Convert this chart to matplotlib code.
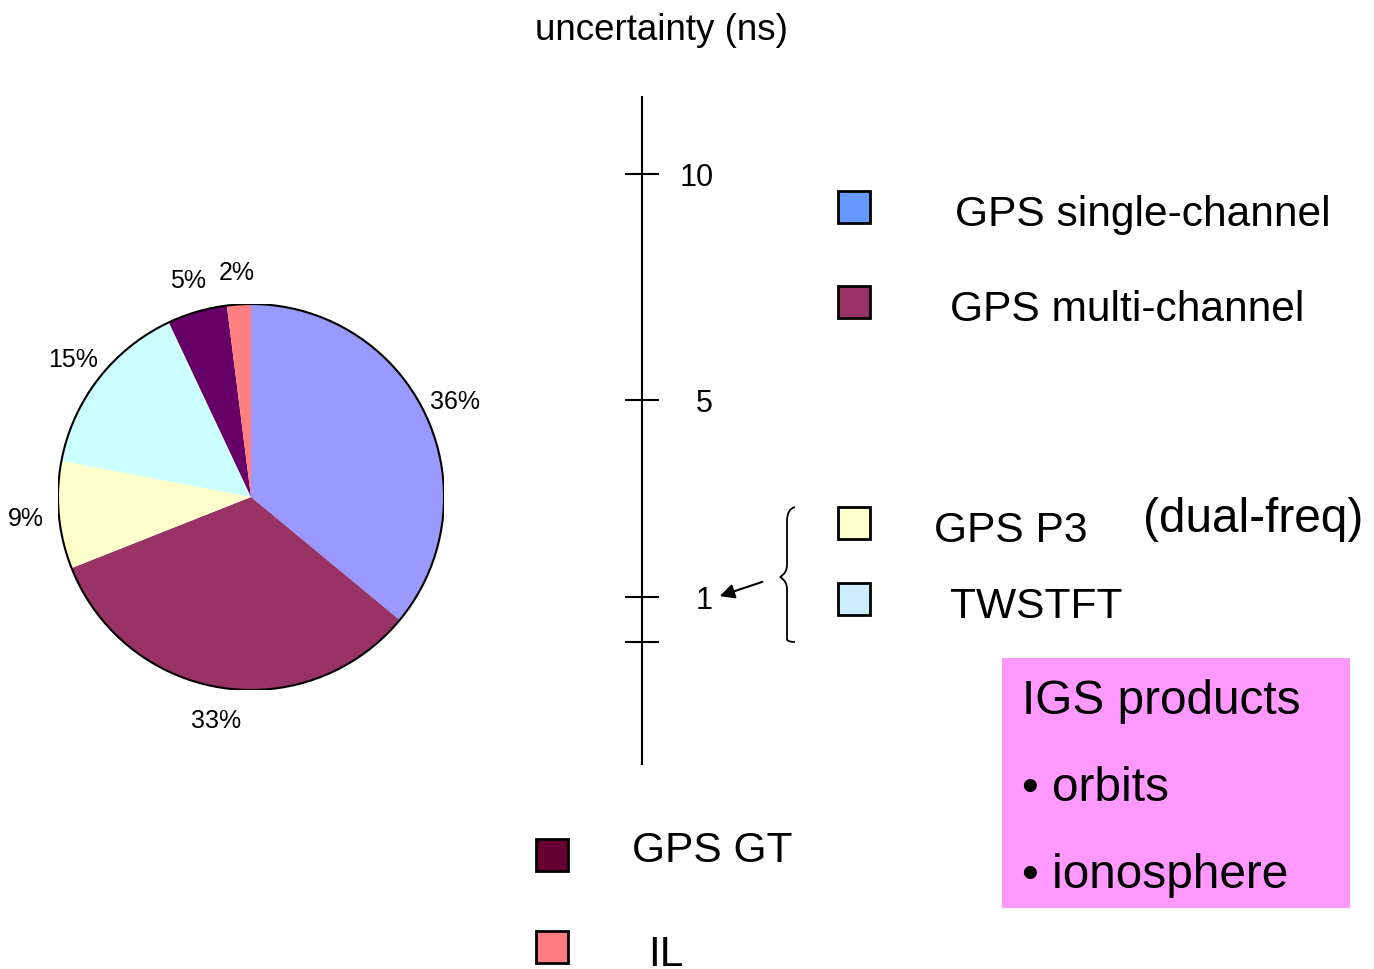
import matplotlib.pyplot as plt
from matplotlib.patches import Rectangle, PathPatch
from matplotlib.path import Path

plt.rcParams['font.family'] = ['Liberation Sans', 'DejaVu Sans']

# pie data
shares = [36, 33, 9, 15, 5, 2]
pie_colors = ['#9999FF', '#993366', '#FFFFCC', '#CCFFFF', '#660066', '#FF8080']
pct_labels = [f"{v}%" for v in shares]

# uncertainty scale
tick_labels = ['10', '5', '1', '']
tick_y = [175, 401, 598, 643]

# legend entries
legend_names = ['GPS single-channel', 'GPS multi-channel', 'GPS P3', 'TWSTFT', 'GPS GT', 'IL']
legend_colors = ['#6699FF', '#993366', '#FFFFCC', '#CCECFF', '#660033', '#FF7C80']
legend_box_xy = [(838, 192), (838, 287), (838, 508), (838, 584), (536, 840), (536, 932)]
legend_text_xy = [(955, 212), (950, 307), (934, 528), (950, 604), (632, 848), (648, 952)]

igs_lines = ['IGS products', '\u2022 orbits', '\u2022 ionosphere']

W, H = 1374, 970
fig = plt.figure(figsize=(W / 100, H / 100), dpi=100)

# overlay in pixel coordinates
ax = fig.add_axes([0, 0, 1, 1])
ax.set_xlim(0, W)
ax.set_ylim(H, 0)
ax.axis('off')

dy = 3  # nudge text centres down a little

# pie
cx, cy, r = 251, 498, 193
pax = fig.add_axes([(cx - r) / W, (H - cy - r) / H, 2 * r / W, 2 * r / H])
wedges, texts = pax.pie(shares, colors=pie_colors, labels=pct_labels, startangle=90,
                        counterclock=False, labeldistance=1.17,
                        wedgeprops=dict(linewidth=0),
                        textprops=dict(fontsize=18, color='black'))
for t in texts:
    t.set_ha('center')
    t.set_va('center')
pax.add_patch(plt.Circle((0, 0), 1, fill=False, edgecolor='black', linewidth=1.5))
pax.set_xlim(-1, 1)
pax.set_ylim(-1, 1)

# title of the scale
ax.text(661, 27 + dy, 'uncertainty (ns)', fontsize=26.5, ha='center', va='center')

# scale axis
ax.plot([642, 642], [98, 765], color='black', lw=1.5)
for lab, y in zip(tick_labels, tick_y):
    ax.plot([626, 658], [y, y], color='black', lw=1.5)
    if lab:
        ax.text(697 + (7 if len(lab) == 1 else 0), y + dy, lab, fontsize=22, ha='center', va='center')

# brace around dual-freq group
verts = [(795, 508), (787, 510), (787, 522), (787, 530),
         (787, 566), (787, 574), (780, 578), (787, 582),
         (787, 590), (787, 630), (787, 640), (787, 643), (795, 643)]
codes = [Path.MOVETO, Path.CURVE3, Path.CURVE3, Path.LINETO,
         Path.LINETO, Path.CURVE3, Path.CURVE3, Path.CURVE3,
         Path.CURVE3, Path.LINETO, Path.LINETO, Path.CURVE3, Path.CURVE3]
ax.add_patch(PathPatch(Path(verts, codes), fill=False, edgecolor='black', lw=1.3))

ax.annotate('', xy=(717, 598), xytext=(765, 582),
            arrowprops=dict(arrowstyle='-|>', color='black', lw=1.5, mutation_scale=22))

# legend boxes
for name, col, (bx, by), (tx, ty) in zip(legend_names, legend_colors, legend_box_xy, legend_text_xy):
    ax.add_patch(Rectangle((bx, by), 32, 32, facecolor=col, edgecolor='black', lw=2))
    ax.text(tx, ty + dy, name, fontsize=30.6, ha='left', va='center')

ax.text(1143, 517 + dy, '(dual-freq)', fontsize=34.4, ha='left', va='center')

# IGS box
ax.add_patch(Rectangle((1002, 659), 348, 250, facecolor='#FF99FF', edgecolor='none'))
for line, y in zip(igs_lines, [699, 786, 873]):
    ax.text(1022, y + dy, line, fontsize=34.4, ha='left', va='center')

fig.savefig('out.png', dpi=100)
